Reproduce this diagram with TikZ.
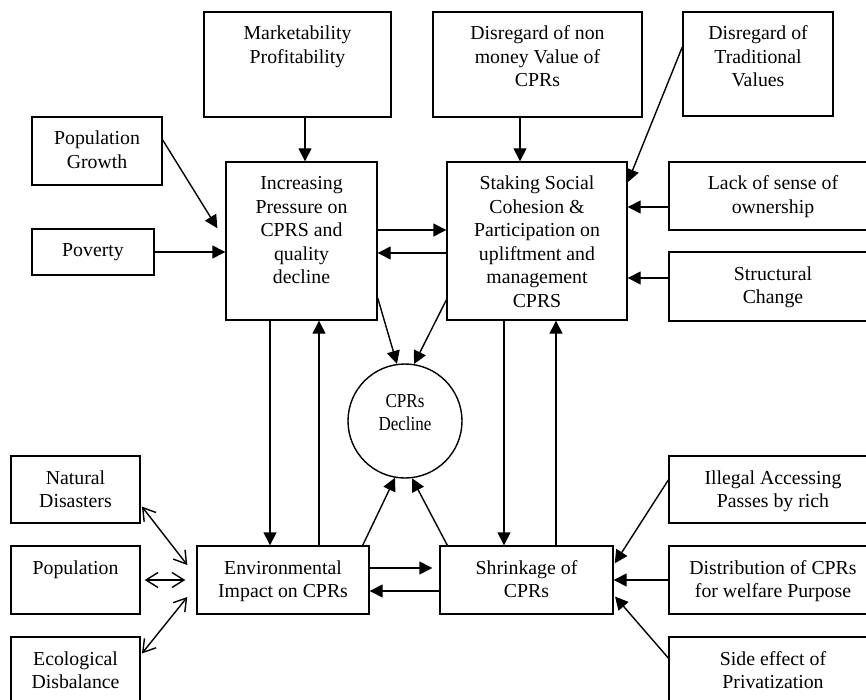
\documentclass[tikz,border=0pt]{standalone}
\usepackage{fontspec}
\setmainfont{Liberation Serif}
\newfontfamily\narrowfont[FakeStretch=0.86]{Liberation Serif}
\usetikzlibrary{arrows.meta}
\newcommand{\tb}[3]{\parbox[c][#2][t]{#1}{\centering\rule{0pt}{28pt}#3}}

\begin{document}
\begin{tikzpicture}[x=1pt,y=-1pt,line width=1.4pt,
  >={Triangle[length=13pt,width=13pt]},
  every node/.style={font=\fontsize{19.8}{23.5}\selectfont},
  box/.style={draw,rectangle,inner sep=0pt},
  dbl/.style={<->,>={Straight Barb[length=12pt,width=15pt]}}]
  \def\Ta{(297.5,64.5)}
  \def\Tb{(537.5,64.5)}
  \def\Tc{(758,64)}
  \def\La{(97,151)}
  \def\Lb{(93,252)}
  \def\Lc{(75.5,489.5)}
  \def\Ld{(75.5,580)}
  \def\Le{(75.5,671)}
  \def\Ca{(301.5,241)}
  \def\Cb{(537,241)}
  \def\Cc{(405,421)}
  \def\Cd{(283,580)}
  \def\Ce{(526.5,580)}
  \def\Ra{(773,196)}
  \def\Rb{(773,286.5)}
  \def\Rc{(773,489.5)}
  \def\Rd{(773,580)}
  \def\Re{(773,671)}
  \useasboundingbox (0,0) rectangle (866,700);
  \clip (0,0) rectangle (866,700);
  % top row
  \node[box] (mkt) at \Ta {\tb{187pt}{105pt}{Marketability\\Profitability}};
  \node[box] (dnm) at \Tb {\tb{209pt}{105pt}{Disregard of non\\money Value of\\CPRs}};
  \node[box] (dtv) at \Tc {\tb{150pt}{104pt}{Disregard of\\Traditional\\Values}};
  % left
  \node[box] (pg)   at \La {\tb{130pt}{68pt}{Population\\Growth}};
  \node[box] (pov)  at \Lb {\tb{122pt}{46pt}{Poverty}};
  \node[box] (nat)  at \Lc {\tb{129pt}{67pt}{Natural\\Disasters}};
  \node[box] (popu) at \Ld {\tb{129pt}{68pt}{Population}};
  \node[box] (eco)  at \Le {\tb{129pt}{68pt}{Ecological\\Disbalance}};
  % centre
  \node[box] (inc) at \Ca {\tb{151pt}{158pt}{Increasing\\Pressure on\\CPRS and\\quality\\decline}};
  \node[box] (stk) at \Cb {\tb{180pt}{158pt}{Staking Social\\Cohesion \&\\Participation on\\upliftment and\\management\\CPRS}};
  \node[draw,circle,inner sep=0pt,minimum size=114pt,
    label={[yshift=8pt,align=center,font=\narrowfont\fontsize{19.8}{23}\selectfont]center:CPRs\\Decline}]
    (cpr) at \Cc {};
  \node[box] (env) at \Cd {\tb{172pt}{68pt}{Environmental\\Impact on CPRs}};
  \node[box] (shr) at \Ce {\tb{173pt}{68pt}{Shrinkage of\\CPRs}};
  % right
  \node[box] (lack) at \Ra {\tb{208pt}{68pt}{Lack of sense of\\ownership}};
  \node[box] (str)  at \Rb {\tb{208pt}{69pt}{Structural\\Change}};
  \node[box] (ill)  at \Rc {\tb{208pt}{67pt}{Illegal Accessing\\Passes by rich}};
  \node[box] (dis)  at \Rd {\tb{208pt}{68pt}{Distribution of CPRs\\for welfare Purpose}};
  \node[box] (sid)  at \Re {\tb{208pt}{68pt}{Side effect of\\Privatization}};
  % arrows
  \draw[->] ([xshift=7.5pt]mkt.south) -- ([xshift=7.5pt]mkt.south |- inc.north);
  \draw[->] ([xshift=-17.5pt]dnm.south) -- ([xshift=-17.5pt]dnm.south |- stk.north);
  \draw[->] ([yshift=17pt]dtv.west) -- ([yshift=-21pt]stk.north east);
  \draw[->] ([yshift=-11pt]lack.west) -- ([yshift=-11pt]lack.west -| stk.east);
  \draw[->] ([yshift=8.5pt]str.west) -- ([yshift=8.5pt]str.west -| stk.east);
  \draw[->,shorten >=15pt] ([yshift=11pt]pg.east) -- (inc.west);
  \draw[->] (pov.east) -- (pov.east -| inc.west);
  \draw[->] ([yshift=11pt]inc.east) -- ([yshift=11pt]inc.east -| stk.west);
  \draw[->] ([yshift=-12pt]stk.west) -- ([yshift=-12pt]stk.west -| inc.east);
  \draw[->] ([yshift=-57pt]inc.east) -- (cpr.98);
  \draw[->] ([yshift=-59pt]stk.west) -- (cpr.81);
  \draw[->] ([xshift=-31.5pt]inc.south) -- ([xshift=-31.5pt]inc.south |- env.north);
  \draw[->] ([xshift=17.5pt]inc.south |- env.north) -- ([xshift=17.5pt]inc.south);
  \draw[->] ([xshift=-33pt]stk.south) -- ([xshift=-33pt]stk.south |- shr.north);
  \draw[->] ([xshift=19pt]stk.south |- shr.north) -- ([xshift=19pt]stk.south);
  \draw[->] ([xshift=-7pt]env.north east) -- (cpr.260);
  \draw[->] ([xshift=8pt]shr.north west) -- (cpr.277);
  \draw[->,shorten >=7pt] ([yshift=12pt]env.east) -- ([yshift=12pt]env.east -| shr.west);
  \draw[->] ([yshift=-11pt]shr.west) -- ([yshift=-11pt]shr.west -| env.east);
  \draw[dbl,shorten <=2pt] ([yshift=-15.5pt]nat.east) -- ([xshift=-9pt,yshift=15pt]env.west);
  \draw[dbl,shorten <=4pt,shorten >=11pt] (popu.east) -- (env.west);
  \draw[dbl,shorten <=2pt] ([yshift=16pt]eco.east) -- ([xshift=-9pt,yshift=-17pt]env.west);
  \draw[->,shorten >=2pt] ([yshift=9.5pt]ill.west) -- ([yshift=15pt]shr.east);
  \draw[->] (dis.west) -- (dis.west -| shr.east);
  \draw[->,shorten >=2pt] ([yshift=13pt]sid.west) -- ([yshift=-15pt]shr.east);
\end{tikzpicture}
\end{document}
